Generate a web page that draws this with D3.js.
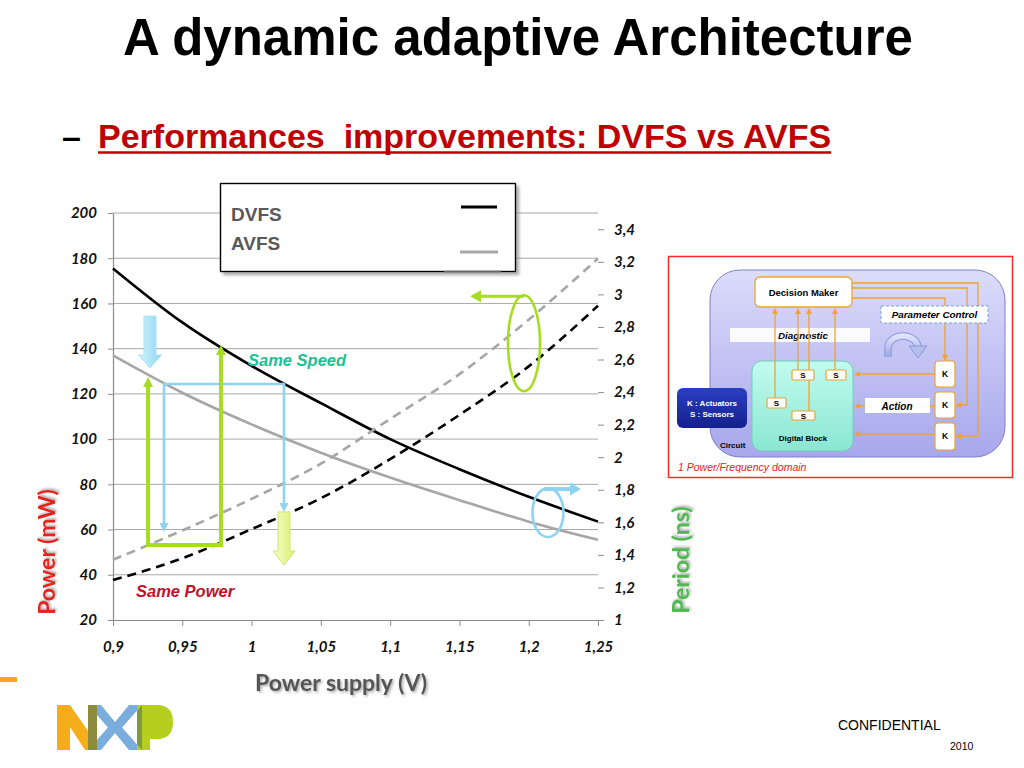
<!DOCTYPE html>
<html><head><meta charset="utf-8">
<script src="https://cdn.jsdelivr.net/npm/d3@7"></script>
<style>
html,body{margin:0;padding:0;background:#fff;}
svg{display:block;}
</style></head>
<body>
<svg id="c" width="1024" height="768"></svg>
<script>
// ---------------- DATA ----------------
const voltage    = [0.9, 0.95, 1.0, 1.05, 1.1, 1.15, 1.2, 1.25];
const dvfsPower  = [175.5, 151.6, 132.4, 115.9, 100, 86.7, 74.5, 63.5];
const avfsPower  = [137, 120.5, 106.5, 94, 83, 73, 63.5, 55.5];
const dvfsPeriod = [1.245, 1.379, 1.558, 1.748, 1.988, 2.26, 2.558, 2.93];
const avfsPeriod = [1.37, 1.55, 1.744, 1.96, 2.235, 2.51, 2.845, 3.22];
const xTicks      = [0.9, 0.95, 1, 1.05, 1.1, 1.15, 1.2, 1.25];
const powerTicks  = [20, 40, 60, 80, 100, 120, 140, 160, 180, 200];
const periodTicks = [1, 1.2, 1.4, 1.6, 1.8, 2, 2.2, 2.4, 2.6, 2.8, 3, 3.2, 3.4];
const legendNames = ["DVFS", "AVFS"];
// annotation anchors (data units)
const speedArrowV   = [0.9253, 0.9779];   // green "same speed" arrows
const speedArrowTop = [127.5, 141.6];
const speedBase     = 53.2;
const powerPathV    = [0.9368, 1.0234];   // cyan "same power" path
const powerPathTop  = 124.4;
const powerPathEnd  = [58.9, 67.8];
const cyanBlock     = {v: 0.9267, top: 154.4, tip: 131.5};
const greenBlock    = {v: 1.0234, top: 67.8, tip: 44.3};
const periodEllipse = {v: 1.1966, p: 2.70};
const powerEllipse  = {v: 1.2139, w: 67.5};

// ---------------- SETUP ----------------
const svg = d3.select("#c");
const defs = svg.append("defs");
const F = "'Liberation Sans', Arial, sans-serif";
const FL = "Lato, 'Open Sans', sans-serif";
const fmt = v => (+v.toFixed(2)).toString().replace(".", ",");

function grad(id, c1, c2, vertical = true) {
  const g = defs.append("linearGradient").attr("id", id)
    .attr("x1", 0).attr("y1", 0).attr("x2", vertical ? 0 : 1).attr("y2", vertical ? 1 : 0);
  g.append("stop").attr("offset", "0%").attr("stop-color", c1);
  g.append("stop").attr("offset", "100%").attr("stop-color", c2);
}
grad("gCyan", "#d4f4fd", "#8fd6f2", false);
grad("gYel", "#f8fdd0", "#d8f06a", false);
grad("gLav", "#dcdcfb", "#a7a7ec");
grad("gMint", "#c2fbef", "#8ae6d2");
grad("gNavy", "#2b3fc4", "#14208c");
grad("gCurl", "#dfe4fb", "#9aa6e4");
const sh = defs.append("filter").attr("id", "shadow").attr("x", "-20%").attr("y", "-20%").attr("width", "140%").attr("height", "140%");
sh.append("feDropShadow").attr("dx", 1.5).attr("dy", 1.5).attr("stdDeviation", 1).attr("flood-color", "#888").attr("flood-opacity", 0.7);
const sh2 = defs.append("filter").attr("id", "boxshadow").attr("x", "-10%").attr("y", "-10%").attr("width", "130%").attr("height", "130%");
sh2.append("feDropShadow").attr("dx", 3).attr("dy", 3).attr("stdDeviation", 1.5).attr("flood-color", "#777").attr("flood-opacity", 0.6);

// ---------------- TITLES ----------------
svg.append("text").attr("x", 518).attr("y", 55).attr("text-anchor", "middle")
  .attr("font-family", F).attr("font-weight", "bold").attr("font-size", 51).attr("fill", "#000")
  .text("A dynamic adaptive Architecture");
svg.append("text").attr("x", 62).attr("y", 148)
  .attr("font-family", F).attr("font-weight", "bold").attr("font-size", 34).attr("fill", "#000").text("–");
const sub = svg.append("text").attr("x", 98).attr("y", 148).style("white-space", "pre")
  .attr("font-family", F).attr("font-weight", "bold").attr("font-size", 34).attr("fill", "#c00000")
  .text("Performances  improvements: DVFS vs AVFS");
const subW = sub.node().getComputedTextLength();
svg.append("line").attr("x1", 98).attr("x2", 98 + subW).attr("y1", 152.5).attr("y2", 152.5)
  .attr("stroke", "#c00000").attr("stroke-width", 2.6);

// ---------------- CHART ----------------
const x = d3.scaleLinear().domain([0.9, 1.25]).range([113, 598]);
const yL = d3.scaleLinear().domain([20, 200]).range([620, 213]);
const yR = d3.scaleLinear().domain([1, 3.5]).range([620, 213]);

const chart = svg.append("g");
// gridlines
chart.append("g").selectAll("line").data(powerTicks.slice(1)).join("line")
  .attr("x1", x(0.9)).attr("x2", x(1.25)).attr("y1", d => yL(d)).attr("y2", d => yL(d))
  .attr("stroke", "#a8a8a8").attr("stroke-width", 1);

// axes
function styleAxis(g) {
  g.select(".domain").attr("stroke", "#8c8c8c").attr("stroke-width", 1.2);
  g.selectAll(".tick line").attr("stroke", "#8c8c8c");
  g.selectAll(".tick text").attr("font-family", FL).attr("font-weight", "bold")
    .attr("font-style", "italic").attr("font-size", 15).attr("fill", "#111");
}
chart.append("g").attr("transform", `translate(${x(0.9)},0)`)
  .call(d3.axisLeft(yL).tickValues(powerTicks).tickFormat(fmt).tickSize(5).tickSizeOuter(0).tickPadding(11))
  .call(styleAxis);
chart.append("g").attr("transform", `translate(0,${yL(20)})`)
  .call(d3.axisBottom(x).tickValues(xTicks).tickFormat(fmt).tickSize(6).tickSizeOuter(0).tickPadding(15))
  .call(styleAxis);
const rAx = chart.append("g").attr("transform", `translate(${x(1.25)},0)`)
  .call(d3.axisRight(yR).tickValues(periodTicks).tickFormat(fmt).tickSize(6).tickSizeOuter(0).tickPadding(10))
  .call(styleAxis);
rAx.select(".domain").attr("filter", "url(#shadow)");

// series
const line = d3.line().curve(d3.curveMonotoneX);
const series = [
  {vals: dvfsPower,  s: yL, color: "#000",    dash: null},
  {vals: avfsPower,  s: yL, color: "#a6a6a6", dash: null},
  {vals: dvfsPeriod, s: yR, color: "#000",    dash: "9,6"},
  {vals: avfsPeriod, s: yR, color: "#a6a6a6", dash: "9,6"}
];
chart.append("g").selectAll("path").data(series).join("path")
  .attr("d", d => line(voltage.map((v, i) => [x(v), d.s(d.vals[i])])))
  .attr("fill", "none").attr("stroke", d => d.color).attr("stroke-width", 2.6)
  .attr("stroke-dasharray", d => d.dash);

// ---------------- ANNOTATIONS ----------------
const ann = svg.append("g");
const GREEN = "#a6dd22", CYAN = "#8ed3f0";
function tri(g, tip, dir, len, half, color) {
  const [tx, ty] = tip; let pts;
  if (dir === "up")    pts = [[tx, ty], [tx - half, ty + len], [tx + half, ty + len]];
  if (dir === "down")  pts = [[tx, ty], [tx - half, ty - len], [tx + half, ty - len]];
  if (dir === "left")  pts = [[tx, ty], [tx + len, ty - half], [tx + len, ty + half]];
  if (dir === "right") pts = [[tx, ty], [tx - len, ty - half], [tx - len, ty + half]];
  g.append("polygon").attr("points", pts.map(p => p.join(",")).join(" ")).attr("fill", color);
}
// cyan same-power path
const cp = [[x(powerPathV[0]), yL(powerPathEnd[0]) - 6], [x(powerPathV[0]), yL(powerPathTop)],
            [x(powerPathV[1]), yL(powerPathTop)], [x(powerPathV[1]), yL(powerPathEnd[1]) - 6]];
ann.append("path").attr("d", d3.line()(cp)).attr("fill", "none").attr("stroke", CYAN).attr("stroke-width", 2.6);
tri(ann, [x(powerPathV[0]), yL(powerPathEnd[0])], "down", 9, 4.5, CYAN);
tri(ann, [x(powerPathV[1]), yL(powerPathEnd[1])], "down", 9, 4.5, CYAN);

// green same-speed arrows
const gx0 = x(speedArrowV[0]), gx1 = x(speedArrowV[1]), gb = yL(speedBase);
ann.append("path").attr("d", d3.line()([[gx0, yL(speedArrowTop[0]) + 7], [gx0, gb], [gx1, gb], [gx1, yL(speedArrowTop[1]) + 7]]))
  .attr("fill", "none").attr("stroke", GREEN).attr("stroke-width", 4).attr("stroke-linejoin", "miter");
tri(ann, [gx0, yL(speedArrowTop[0])], "up", 10, 5, GREEN);
tri(ann, [gx1, yL(speedArrowTop[1])], "up", 10, 5, GREEN);

// block arrows
function blockDown(cx, top, tip, shaftHalf, headHalf, headH, fill, stroke) {
  const p = [[cx - shaftHalf, top], [cx + shaftHalf, top], [cx + shaftHalf, tip - headH], [cx + headHalf, tip - headH],
             [cx, tip], [cx - headHalf, tip - headH], [cx - shaftHalf, tip - headH]];
  ann.append("polygon").attr("points", p.map(q => q.join(",")).join(" "))
    .attr("fill", fill).attr("stroke", stroke).attr("stroke-width", 1);
}
blockDown(x(cyanBlock.v), yL(cyanBlock.top), yL(cyanBlock.tip), 6, 11.5, 13, "url(#gCyan)", "#a8e2f6");
blockDown(x(greenBlock.v), yL(greenBlock.top), yL(greenBlock.tip), 6, 11, 14, "url(#gYel)", "#cfe66a");

// ellipses with arrows
const e1x = x(periodEllipse.v), e1y = yR(periodEllipse.p);
ann.append("ellipse").attr("cx", e1x).attr("cy", e1y).attr("rx", 16).attr("ry", 48)
  .attr("fill", "none").attr("stroke", GREEN).attr("stroke-width", 2.6);
ann.append("line").attr("x1", e1x).attr("x2", e1x - 44).attr("y1", e1y - 47).attr("y2", e1y - 47)
  .attr("stroke", GREEN).attr("stroke-width", 3);
tri(ann, [e1x - 54, e1y - 47], "left", 11, 6, GREEN);

const e2x = x(powerEllipse.v), e2y = yL(powerEllipse.w);
ann.append("ellipse").attr("cx", e2x).attr("cy", e2y).attr("rx", 15.5).attr("ry", 24.5)
  .attr("fill", "none").attr("stroke", CYAN).attr("stroke-width", 2.6);
ann.append("line").attr("x1", e2x - 4).attr("x2", e2x + 24).attr("y1", e2y - 23.5).attr("y2", e2y - 23.5)
  .attr("stroke", CYAN).attr("stroke-width", 4);
tri(ann, [e2x + 33, e2y - 23.5], "right", 11, 6.5, CYAN);

ann.append("text").attr("x", 248).attr("y", 366).attr("font-family", F).attr("font-weight", "bold")
  .attr("font-style", "italic").attr("font-size", 16.5).attr("fill", "#1dbf96").text("Same Speed");
ann.append("text").attr("x", 136).attr("y", 597).attr("font-family", F).attr("font-weight", "bold")
  .attr("font-style", "italic").attr("font-size", 16.5).attr("fill", "#c0122c").text("Same Power");

// ---------------- LEGEND ----------------
const lg = svg.append("g");
lg.append("rect").attr("x", 220.5).attr("y", 183.5).attr("width", 295).attr("height", 88)
  .attr("fill", "#fff").attr("stroke", "#000").attr("stroke-width", 1.4).attr("filter", "url(#boxshadow)");
lg.selectAll("text").data(legendNames).join("text")
  .attr("x", 231).attr("y", (d, i) => 221 + i * 29)
  .attr("font-family", F).attr("font-weight", "bold").attr("font-size", 19).attr("fill", "#595959").text(d => d);
lg.append("line").attr("x1", 461).attr("x2", 497).attr("y1", 207).attr("y2", 207).attr("stroke", "#000").attr("stroke-width", 3);
lg.append("line").attr("x1", 460).attr("x2", 498).attr("y1", 252).attr("y2", 252).attr("stroke", "#a6a6a6").attr("stroke-width", 3);
lg.append("line").attr("x1", 444).attr("x2", 501).attr("y1", 271.5).attr("y2", 271.5).attr("stroke", "#666").attr("stroke-width", 1.6);

// ---------------- AXIS TITLES ----------------
svg.append("text").attr("transform", "translate(55,552) rotate(-90)").attr("text-anchor", "middle")
  .attr("font-family", FL).attr("font-weight", "bold").attr("font-size", 23).attr("fill", "#e8201c")
  .attr("filter", "url(#shadow)").text("Power (mW)");
svg.append("text").attr("transform", "translate(689,560) rotate(-90)").attr("text-anchor", "middle")
  .attr("font-family", FL).attr("font-weight", "bold").attr("font-size", 23).attr("fill", "#4dbb4d")
  .attr("filter", "url(#shadow)").text("Period (ns)");
svg.append("text").attr("x", 341).attr("y", 691).attr("text-anchor", "middle")
  .attr("font-family", FL).attr("font-weight", "bold").attr("font-size", 23).attr("fill", "#555")
  .attr("filter", "url(#shadow)").text("Power supply (V)");

// ---------------- ARCHITECTURE DIAGRAM ----------------
const dg = svg.append("g");
const OR = "#f0a22e";
dg.append("rect").attr("x", 668.5).attr("y", 256.5).attr("width", 344).attr("height", 221)
  .attr("fill", "#fff").attr("stroke", "#ff2a2a").attr("stroke-width", 1.5);
dg.append("rect").attr("x", 710).attr("y", 270).attr("width", 295).attr("height", 187).attr("rx", 30)
  .attr("fill", "url(#gLav)").attr("stroke", "#8080c8").attr("stroke-width", 1);
dg.append("rect").attr("x", 677).attr("y", 388).attr("width", 70).attr("height", 40).attr("rx", 6)
  .attr("fill", "url(#gNavy)");
const dtext = (tx, ty, s, size, opts = {}) => dg.append("text").attr("x", tx).attr("y", ty)
  .attr("text-anchor", opts.anchor || "middle").attr("font-family", F)
  .attr("font-weight", opts.weight || "bold").attr("font-style", opts.style || "normal")
  .attr("font-size", size).attr("fill", opts.fill || "#000").text(s);
dtext(712, 406, "K : Actuators", 8, {fill: "#fff"});
dtext(712, 417, "S : Sensors", 8, {fill: "#fff"});
dtext(720, 448, "Circuit", 8, {anchor: "start"});
dg.append("rect").attr("x", 752).attr("y", 361).attr("width", 101).attr("height", 90).attr("rx", 10)
  .attr("fill", "url(#gMint)").attr("stroke", "#74cdb9").attr("stroke-width", 1);
dtext(803, 441, "Digital Block", 8);
dg.append("rect").attr("x", 730).attr("y", 328).attr("width", 140).attr("height", 14).attr("fill", "#fff").attr("opacity", 0.92);
dtext(803, 339, "Diagnostic", 9.8, {style: "italic"});

// orange connections
const conn = dg.append("g").attr("fill", "none").attr("stroke", OR).attr("stroke-width", 1.3);
[[775, 398], [798, 370], [809, 412], [835, 370]].forEach(([cx, y0]) => {
  conn.append("line").attr("x1", cx).attr("x2", cx).attr("y1", y0).attr("y2", 312);
  tri(dg, [cx, 308], "up", 6, 3, OR);
});
conn.append("path").attr("d", "M852,283 H978 V436 H961");
tri(dg, [955, 436], "left", 6, 3, OR);
conn.append("path").attr("d", "M852,288 H967 V405 H961");
tri(dg, [955, 405], "left", 6, 3, OR);
conn.append("path").attr("d", "M852,298 H945 V356");
tri(dg, [945, 361], "down", 6, 3, OR);
[374, 406, 434].forEach(yy => {
  conn.append("line").attr("x1", 935).attr("x2", 860).attr("y1", yy).attr("y2", yy);
  tri(dg, [854, yy], "left", 6, 3, OR);
});
dg.append("rect").attr("x", 865).attr("y", 398).attr("width", 65).attr("height", 15).attr("fill", "#fff");
dtext(897, 410, "Action", 10, {style: "italic"});

// decision maker & parameter control
dg.append("rect").attr("x", 755).attr("y", 277).attr("width", 97).attr("height", 30).attr("rx", 5)
  .attr("fill", "#fff").attr("stroke", OR).attr("stroke-width", 1.3);
dtext(803.5, 295.5, "Decision Maker", 9.5);
dg.append("rect").attr("x", 881).attr("y", 306).attr("width", 107).attr("height", 17)
  .attr("fill", "#fff").attr("stroke", "#6a9cc6").attr("stroke-width", 0.9).attr("stroke-dasharray", "3,2");
dtext(934.5, 318, "Parameter Control", 9.8, {style: "italic"});

// sensors & actuators
[[792, 370, 22, 10], [826, 370, 20, 10], [767, 398, 19, 10], [792, 411, 23, 9]].forEach(([bx, by, bw, bh]) => {
  dg.append("rect").attr("x", bx).attr("y", by).attr("width", bw).attr("height", bh).attr("rx", 1.5)
    .attr("fill", "#fff").attr("stroke", OR).attr("stroke-width", 1.2);
  dtext(bx + bw / 2, by + bh / 2 + 3, "S", 8);
});
[361, 392, 423].forEach(by => {
  dg.append("rect").attr("x", 935).attr("y", by).attr("width", 20).attr("height", by === 423 ? 27 : 26).attr("rx", 3)
    .attr("fill", "#fff").attr("stroke", OR).attr("stroke-width", 1.2);
  dtext(945, by + 16, "K", 8.5);
});
// curl arrow icon
dg.append("path").attr("d", "M888,357 L888,348 A15,12 0 0 1 918,348").attr("fill", "none")
  .attr("stroke", "#8c98da").attr("stroke-width", 7.5);
dg.append("path").attr("d", "M888,357 L888,348 A15,12 0 0 1 918,348").attr("fill", "none")
  .attr("stroke", "url(#gCurl)").attr("stroke-width", 5.5);
dg.append("polygon").attr("points", "909,346 927,346 918,358").attr("fill", "#b4bdec").attr("stroke", "#8c98da").attr("stroke-width", 1);
dtext(678, 471, "1 Power/Frequency domain", 10.5, {anchor: "start", weight: "normal", style: "italic", fill: "#e8201c"});

// ---------------- FOOTER ----------------
svg.append("rect").attr("x", 0).attr("y", 677).attr("width", 17).attr("height", 5).attr("fill", "#f5a623");
const logo = svg.append("g");
logo.append("polygon").attr("points", "57,750 57,705 70,705 88,731 88,705 97,705 97,750 85,750 70,727 70,750").attr("fill", "#f5ad1a");
logo.append("polygon").attr("points", "88,705 101,705 115,722 129,705 142,705 122,727.5 142,750 129,750 115,733 101,750 88,750 108,727.5").attr("fill", "#7aacdc");
logo.append("rect").attr("x", 88).attr("y", 705).attr("width", 9).attr("height", 45).attr("fill", "#8d8c3e");
logo.append("path").attr("d", "M137,705 H157 Q173,705 173,722 Q173,739 157,739 H150 V750 H137 Z").attr("fill", "#b5cf1e");
logo.append("polygon").attr("points", "137,711 142,705 142,750 137,744").attr("fill", "#7f9a3a");

svg.append("text").attr("x", 838).attr("y", 730).attr("font-family", F).attr("font-size", 14).attr("fill", "#000").text("CONFIDENTIAL");
svg.append("text").attr("x", 950).attr("y", 750).attr("font-family", F).attr("font-size", 10.5).attr("fill", "#000").text("2010");
</script>
</body></html>
